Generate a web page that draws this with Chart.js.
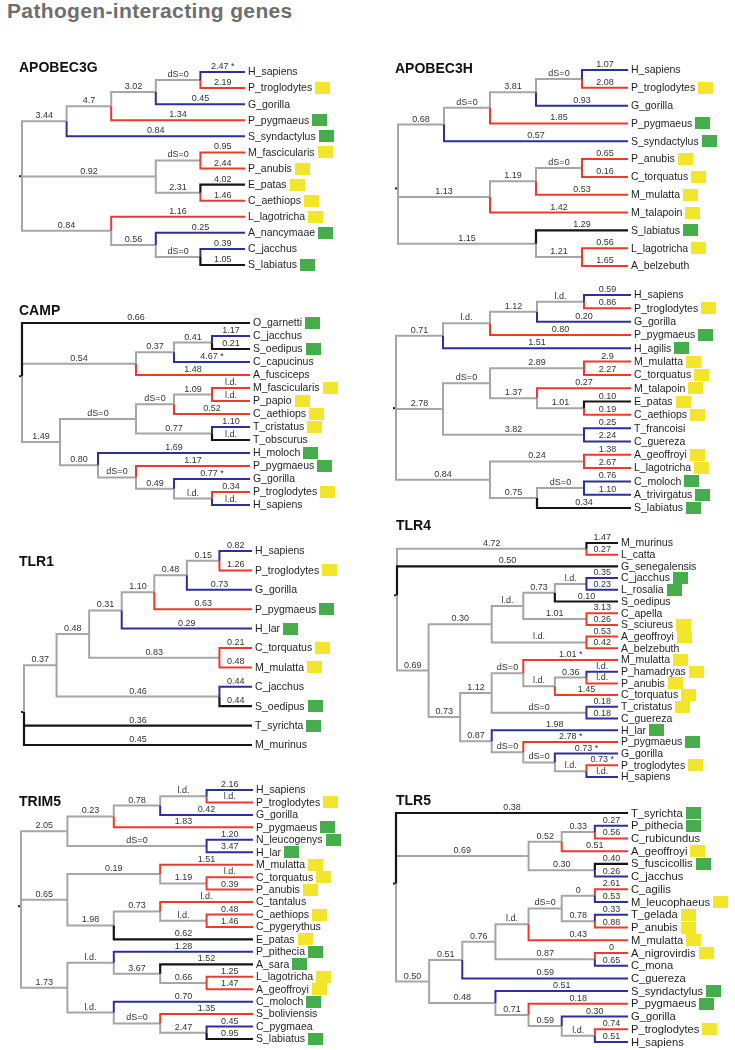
<!DOCTYPE html>
<html>
<head>
<meta charset="utf-8">
<script src="https://cdn.jsdelivr.net/npm/chart.js@4.4.0/dist/chart.umd.min.js"></script>
<style>
  body { margin: 0; background: #fff; width: 735px; height: 1050px; position: relative; overflow: hidden;
         font-family: "Liberation Sans", Arial, Helvetica, sans-serif; }
  #page-title { position: absolute; left: 7px; top: 0; font-size: 21px; line-height: 21px; font-weight: bold;
                color: #6e6e6e; letter-spacing: 0.35px; white-space: nowrap; }
  .gene { position: absolute; font-size: 14px; line-height: 14px; font-weight: bold; color: #111; }
  canvas { position: absolute; }
</style>
</head>
<body>
<div id="page-title">Pathogen-interacting genes</div>
<script>
// trees: leaf = name|branch label|colour|box, inner node = (children)|branch label|colour
// colours: g grey, r red, b blue, k black; boxes: Y yellow, G green
const apobec3gTree = `(((((H_sapiens|2.47 *|b,P_troglodytes|2.19|r|Y)|dS=0|g,G_gorilla|0.45|b)|3.02|g,P_pygmaeus|1.34|r|G)|4.7|g,S_syndactylus|0.84|b|G)|3.44|g,
  ((M_fascicularis|0.95|r|Y,P_anubis|2.44|r|Y)|dS=0|g,(E_patas|4.02|k|Y,C_aethiops|1.46|r|Y)|2.31|g)|0.92|g,
  (L_lagotricha|1.16|r|Y,(A_nancymaae|0.25|b|G,(C_jacchus|0.39|b,S_labiatus|1.05|k|G)|dS=0|g)|0.56|g)|0.84|g)`;

const apobec3hTree = `(((((H_sapiens|1.07|b,P_troglodytes|2.08|r|Y)|dS=0|g,G_gorilla|0.93|b)|3.81|g,P_pygmaeus|1.85|r|G)|dS=0|g,S_syndactylus|0.57|b|G)|0.68|g,
  (((P_anubis|0.65|r|Y,C_torquatus|0.16|r|Y)|dS=0|g,M_mulatta|0.53|r|Y)|1.19|g,M_talapoin|1.42|r|Y)|1.13|g,
  (S_labiatus|1.29|k|G,(L_lagotricha|0.56|r|Y,A_belzebuth|1.65|r)|1.21|g)|1.15|g)`;

const untitledTree = `(((((H_sapiens|0.59|b,P_troglodytes|0.86|r|Y)|l.d.|g,G_gorilla|0.20|b)|1.12|g,P_pygmaeus|0.80|r|G)|l.d.|g,H_agilis|1.51|b|G)|0.71|g,
  (((M_mulatta|2.9|r|Y,C_torquatus|2.27|r|Y)|2.89|g,(M_talapoin|0.27|r|Y,(E_patas|0.10|k|Y,C_aethiops|0.19|r|Y)|1.01|g)|1.37|g)|dS=0|g,
   (T_francoisi|0.25|b,C_guereza|2.24|b)|3.82|g)|2.78|g,
  ((A_geoffroyi|1.38|r|Y,L_lagotricha|2.67|r|Y)|0.24|g,((C_moloch|0.76|b|G,A_trivirgatus|1.10|b|G)|dS=0|g,S_labiatus|0.34|k|G)|0.75|g)|0.84|g)`;

const campTree = `(O_garnetti|0.66|k|G,
  (((C_jacchus|1.17|b,S_oedipus|0.21|k|G)|0.41|g,C_capucinus|4.67 *|b)|0.37|g,A_fusciceps|1.48|r)|0.54|g,
  ((((M_fascicularis|l.d.|r|Y,P_papio|l.d.|r|Y)|1.09|g,C_aethiops|0.52|r|Y)|dS=0|g,(T_cristatus|1.10|b|Y,T_obscurus|l.d.|k)|0.77|g)|dS=0|g,
   (H_moloch|1.69|b|G,(P_pygmaeus|1.17|r|G,(G_gorilla|0.77 *|b,(P_troglodytes|0.34|r|Y,H_sapiens|l.d.|b)|l.d.|g)|0.49|g)|dS=0|g)|0.80|g)|1.49|g)`;

const tlr1Tree = `(((((((H_sapiens|0.82|b,P_troglodytes|1.26|r|Y)|0.15|g,G_gorilla|0.73|b)|0.48|g,P_pygmaeus|0.63|r|G)|1.10|g,H_lar|0.29|b|G)|0.31|g,
  (C_torquatus|0.21|r|Y,M_mulatta|0.48|r|Y)|0.83|g)|0.48|g,(C_jacchus|0.44|b,S_oedipus|0.44|k|G)|0.46|g)|0.37|g,
  T_syrichta|0.36|k|G,M_murinus|0.45|k)`;

const tlr4Tree = `((M_murinus|1.47|k,L_catta|0.27|r)|4.72|g,G_senegalensis|0.50|k,
  (((((C_jacchus|0.35|b|G,L_rosalia|0.23|b|G)|l.d.|g,S_oedipus|0.10|k)|0.73|g,(C_apella|3.13|r,S_sciureus|0.26|r|Y)|1.01|g)|l.d.|g,
    (A_geoffroyi|0.53|r|Y,A_belzebuth|0.42|r)|l.d.|g)|0.30|g,
   (((M_mulatta|1.01 *|r|Y,((P_hamadryas|l.d.|b|Y,P_anubis|l.d.|r|Y)|0.36|g,C_torquatus|1.45|r|Y)|l.d.|g)|dS=0|g,
     (T_cristatus|0.18|b|Y,C_guereza|0.18|b)|dS=0|g)|1.12|g,
    (H_lar|1.98|b|G,(P_pygmaeus|2.78 *|r|G,(G_gorilla|0.73 *|b,(P_troglodytes|0.73 *|r|Y,H_sapiens|l.d.|b)|l.d.|g)|dS=0|g)|dS=0|g)|0.87|g)|0.73|g)|0.69|g)`;

const trim5Tree = `(((((H_sapiens|2.16|b,P_troglodytes|l.d.|r|Y)|l.d.|g,G_gorilla|0.42|b)|0.78|g,P_pygmaeus|1.83|r|G)|0.23|g,
   (N_leucogenys|1.20|b|G,H_lar|3.47|b|G)|dS=0|g)|2.05|g,
  ((M_mulatta|1.51|r|Y,(C_torquatus|l.d.|r|Y,P_anubis|0.39|r|Y)|1.19|g)|0.19|g,
   ((C_tantalus|l.d.|r,(C_aethiops|0.48|r|Y,C_pygerythus|1.46|r)|l.d.|g)|0.73|g,E_patas|0.62|k|Y)|1.98|g)|0.65|g,
  ((P_pithecia|1.28|b|G,(A_sara|1.52|k|G,(L_lagotricha|1.25|r|Y,A_geoffroyi|1.47|r|Y)|0.66|g)|3.67|g)|l.d.|g,
   (C_moloch|0.70|b|G,(S_boliviensis|1.35|r,(C_pygmaea|0.45|b,S_labiatus|0.95|k|G)|2.47|g)|dS=0|g)|l.d.|g)|1.73|g)`;

const tlr5Tree = `(T_syrichta|0.38|k|G,
  (((P_pithecia|0.27|b|G,C_rubicundus|0.56|r)|0.33|g,A_geoffroyi|0.51|r|Y)|0.52|g,(S_fuscicollis|0.40|k|G,C_jacchus|0.26|b)|0.30|g)|0.69|g,
  ((((((C_agilis|2.61|r,M_leucophaeus|0.53|b|Y)|0|g,(T_gelada|0.33|b|Y,P_anubis|0.88|r|Y)|0.78|g)|dS=0|g,M_mulatta|0.43|r|Y)|l.d.|g,
      (A_nigrovirdis|0|r|Y,C_mona|0.65|b)|0.87|g)|0.76|g,C_guereza|0.59|b)|0.51|g,
   (S_syndactylus|0.51|b|G,(P_pygmaeus|0.18|r|G,(G_gorilla|0.30|b,(P_troglodytes|0.74|r|Y,H_sapiens|0.51|b)|l.d.|g)|0.59|g)|0.71|g)|0.48|g)|0.50|g)`;

const geneNames = ['APOBEC3G', 'APOBEC3H', '', 'CAMP', 'TLR1', 'TLR4', 'TRIM5', 'TLR5'];
const geneTrees = [apobec3gTree, apobec3hTree, untitledTree, campTree, tlr1Tree, tlr4Tree, trim5Tree, tlr5Tree];

const lineColors = { g: '#a6a6a6', r: '#ee3a2c', b: '#2f2f9c', k: '#151515' };
const lineOrder = { k: 0, b: 1, r: 2, g: 3 };
const boxColors = { Y: '#f2e52c', G: '#47ac4c' };

// where each tree sits on the page: root x, tip x, first and last tip y, title position
const panelLayout = [
  { rootX: 22,  tipX: 245, top: 72,  bottom: 265, titleX: 19,  titleY: 60,  font: 10.5 },
  { rootX: 398, tipX: 628, top: 70,  bottom: 266, titleX: 395, titleY: 61,  font: 10.5 },
  { rootX: 396, tipX: 631, top: 295, bottom: 508, titleX: 0,   titleY: 0,   font: 10.5 },
  { rootX: 22,  tipX: 250, top: 323, bottom: 505, titleX: 19,  titleY: 303, font: 10.5 },
  { rootX: 24,  tipX: 252, top: 551, bottom: 745, titleX: 19,  titleY: 554, font: 10.5 },
  { rootX: 397, tipX: 618, top: 543, bottom: 777, titleX: 396, titleY: 518, font: 10.5 },
  { rootX: 21,  tipX: 253, top: 790, bottom: 1039, titleX: 19, titleY: 794, font: 10.5 },
  { rootX: 396, tipX: 628, top: 813, bottom: 1042, titleX: 396, titleY: 793, font: 11.2 }
];

function parseTree(text) {
  const str = text.replace(/\s*\n\s*/g, '');
  let pos = 0;
  function node() {
    const n = { children: [] };
    if (str[pos] === '(') {
      pos++;
      n.children.push(node());
      while (str[pos] === ',') { pos++; n.children.push(node()); }
      pos++;
    }
    const start = pos;
    while (pos < str.length && str[pos] !== ',' && str[pos] !== ')') pos++;
    const parts = str.slice(start, pos).split('|');
    n.name = parts[0];
    n.label = parts[1] || '';
    n.color = parts[2] || 'g';
    n.box = parts[3] || '';
    return n;
  }
  return node();
}

function drawTree(idx) {
  const lay = panelLayout[idx];
  const root = parseTree(geneTrees[idx]);
  const nodes = [];
  const tips = [];
  (function walk(n, parent) {
    n.parent = parent;
    nodes.push(n);
    if (!n.children.length) {
      n.h = 0;
      n.y = tips.length;
      tips.push(n);
      return;
    }
    n.children.forEach(c => walk(c, n));
    n.h = Math.max(...n.children.map(c => c.h)) + 1;
    n.y = n.children.reduce((s, c) => s + c.y, 0) / n.children.length;
  })(root, null);

  // each branch is an elbow: down/up from the parent, then across to the child
  const segs = { g: [], r: [], b: [], k: [] };
  nodes.forEach(n => {
    if (!n.parent) return;
    segs[n.color].push(
      { x: -n.parent.h, y: n.parent.y },
      { x: -n.parent.h, y: n.y },
      { x: -n.h, y: n.y },
      { x: null, y: null }
    );
  });

  const colLeft = lay.rootX < 300 ? 0 : 367;
  const cw = 368;
  const cTop = lay.top - 22;
  const ch = lay.bottom - lay.top + 34;
  const canvas = document.createElement('canvas');
  canvas.width = cw;
  canvas.height = ch;
  canvas.style.left = colLeft + 'px';
  canvas.style.top = cTop + 'px';
  document.body.appendChild(canvas);

  if (geneNames[idx]) {
    const t = document.createElement('div');
    t.className = 'gene';
    t.textContent = geneNames[idx];
    t.style.left = lay.titleX + 'px';
    t.style.top = lay.titleY + 'px';
    document.body.appendChild(t);
  }

  const treeText = {
    id: 'treeText' + idx,
    afterDatasetsDraw(chart) {
      const ctx = chart.ctx;
      const xs = chart.scales.x;
      const ys = chart.scales.y;
      ctx.save();
      // branch labels centred above each horizontal branch
      ctx.font = '9px "Liberation Sans", Arial, sans-serif';
      ctx.fillStyle = '#333';
      ctx.textAlign = 'center';
      ctx.textBaseline = 'alphabetic';
      nodes.forEach(n => {
        if (!n.parent || !n.label) return;
        const x0 = xs.getPixelForValue(-n.parent.h);
        const x1 = xs.getPixelForValue(-n.h);
        ctx.fillText(n.label, (x0 + x1) / 2, ys.getPixelForValue(n.y) - 3);
      });
      // species names and boxes
      ctx.font = lay.font + 'px "Liberation Sans", Arial, sans-serif';
      ctx.textAlign = 'left';
      ctx.textBaseline = 'middle';
      tips.forEach(n => {
        const x = xs.getPixelForValue(0) + 3;
        const y = ys.getPixelForValue(n.y);
        ctx.fillStyle = '#1e1e1e';
        ctx.fillText(n.name, x, y + 0.5);
        if (n.box) {
          const w = ctx.measureText(n.name).width;
          ctx.fillStyle = boxColors[n.box];
          ctx.fillRect(Math.round(x + w + 3), Math.round(y - 6), 15, 12);
        }
      });
      // little dot at the root
      ctx.fillStyle = '#222';
      ctx.fillRect(xs.getPixelForValue(-root.h) - 3, ys.getPixelForValue(root.y) - 1, 2, 2);
      ctx.restore();
    }
  };

  new Chart(canvas, {
    type: 'line',
    data: {
      datasets: Object.keys(segs).map(k => ({
        data: segs[k],
        borderColor: lineColors[k],
        borderWidth: k === 'k' ? 2.2 : 2,
        pointRadius: 0,
        spanGaps: false,
        tension: 0,
        clip: false,
        borderJoinStyle: 'miter',
        borderCapStyle: 'butt',
        order: lineOrder[k]
      }))
    },
    options: {
      responsive: false,
      animation: false,
      events: [],
      layout: {
        padding: {
          left: lay.rootX - colLeft,
          right: cw - (lay.tipX - colLeft),
          top: lay.top - cTop,
          bottom: ch - (lay.bottom - cTop)
        }
      },
      scales: {
        x: { type: 'linear', min: -root.h, max: 0, display: false },
        y: { type: 'linear', min: 0, max: tips.length - 1, reverse: true, display: false }
      },
      plugins: { legend: { display: false }, tooltip: { enabled: false } }
    },
    plugins: [treeText]
  });
}

geneTrees.forEach((t, i) => drawTree(i));
</script>
</body>
</html>
